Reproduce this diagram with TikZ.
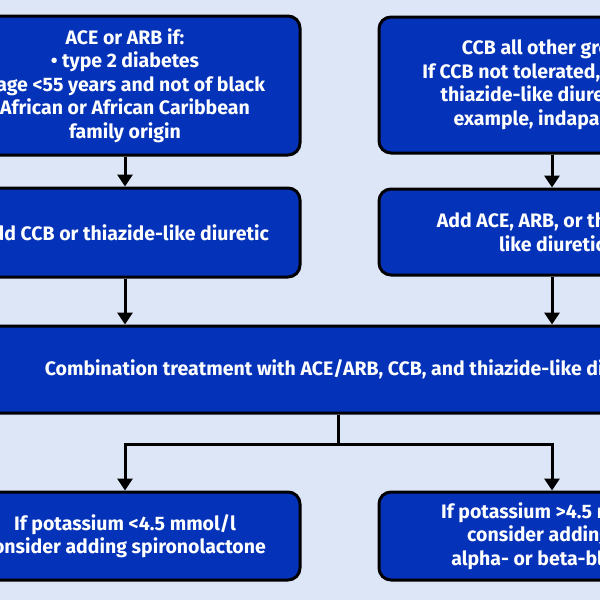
\documentclass[tikz,border=0pt]{standalone}
\usepackage{fontspec}
\setmainfont{Fira Sans}
\usetikzlibrary{arrows.meta}
\definecolor{page blue}{RGB}{221,230,246}
\definecolor{box blue}{RGB}{4,50,184}
\pgfdeclarelayer{background}
\pgfdeclarelayer{nodelayer}
\pgfdeclarelayer{edgelayer}
\pgfsetlayers{background,edgelayer,nodelayer,main}
\tikzstyle{blue box}=[fill=box blue, draw=black, line width=3pt, rounded corners=12pt, shape=rectangle, text=white, font=\bfseries\fontsize{19.5}{23.5}\selectfont, align=center, minimum width=350pt]
\tikzstyle{none}=[fill=none, draw=none, shape=circle, scale=0]
\tikzstyle{flow edge}=[draw=black, line width=3pt, -{Triangle[length=12pt,width=15pt]}]
\tikzstyle{plain edge}=[draw=black, line width=3pt]

\begin{document}
\begin{tikzpicture}[x=1pt, y=-1pt]
	\begin{pgfonlayer}{background}
		\path [use as bounding box, fill=page blue] (0, 0) rectangle (600, 600);
	\end{pgfonlayer}
	\begin{pgfonlayer}{nodelayer}
		\clip (0, 0) rectangle (600, 600);
		\node [style=blue box, minimum height=139pt] (0) at (125, 85.5) {ACE or ARB if:\\ • type 2 diabetes\\ • age <55 years and not of black\\ African or African Caribbean\\ family origin};
		\node [style=blue box, minimum width=346pt, minimum height=136pt] (1) at (552, 85) {CCB all other groups\\ If CCB not tolerated, consider\\ thiazide-like diuretic (for\\ example, indapamide)};
		\node [style=blue box, minimum height=89pt] (2) at (125, 232.5) {Add CCB or thiazide-like diuretic};
		\node [style=blue box, minimum width=346pt, minimum height=86pt] (3) at (552, 232) {Add ACE, ARB, or thiazide-\\ like diuretic};
		\node [style=blue box, minimum width=900pt, minimum height=87pt] (4) at (350, 369.5) {Combination treatment with ACE/ARB, CCB, and thiazide-like diuretic};
		\node [style=blue box, minimum height=88pt] (5) at (125, 536) {If potassium <4.5 mmol/l\\ consider adding spironolactone};
		\node [style=blue box, minimum width=346pt, minimum height=88pt] (6) at (552, 536) {If potassium >4.5 mmol/l\\ consider adding an\\ alpha- or beta-blocker};
		\node [style=none] (7) at (338, 444) {};
	\end{pgfonlayer}
	\begin{pgfonlayer}{edgelayer}
		\clip (0, 0) rectangle (600, 600);
		\draw [style=flow edge] (0) to (2);
		\draw [style=flow edge] (1) to (3);
		\draw [style=flow edge] (2) to (2 |- 4.north);
		\draw [style=flow edge] (3) to (3 |- 4.north);
		\draw [style=plain edge] (4.south -| 7.center) to (7.center);
		\draw [style=flow edge] (7.center) -| (5);
		\draw [style=flow edge] (7.center) -| (6);
	\end{pgfonlayer}
\end{tikzpicture}
\end{document}
